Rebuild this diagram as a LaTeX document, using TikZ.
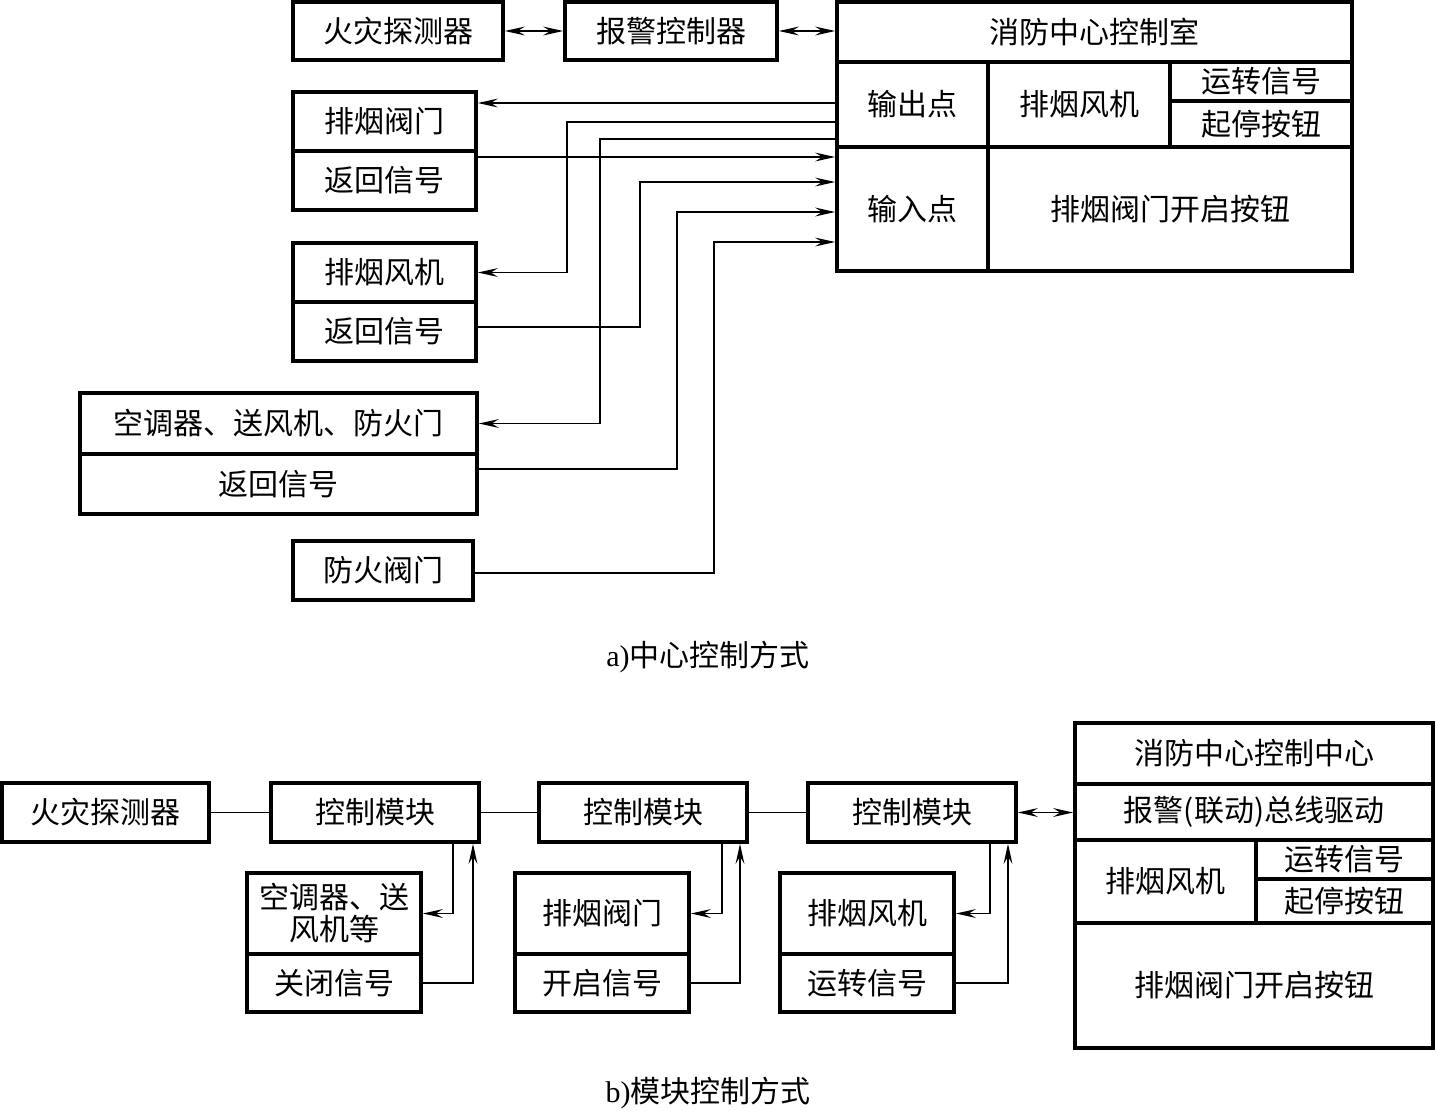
\documentclass[tikz,border=0pt]{standalone}
\usepackage{fontspec}
\newfontfamily\cjk{Noto Sans CJK SC}
\newfontfamily\latin{Liberation Serif}
\usetikzlibrary{arrows.meta}

% Caja rectangular dada por sus esquinas (en pixeles de la figura)
\newcommand{\caja}[6]{%
    \node[celda, minimum width={(#4-#2)*0.5pt}, minimum height={(#5-#3)*0.5pt}] (#1) at ({(#2+#4)/2},{(#3+#5)/2}) {#6};}

\tikzset{
    celda/.style={draw, line width=1.8pt, inner sep=0pt, align=center, font=\cjk\fontsize{15}{16}\selectfont},
    senal/.style={line width=0.8pt, -{Stealth[length=10pt, width=4.4pt, inset=3.5pt]}},
    enlace/.style={line width=0.8pt},
    doble/.style={line width=0.9pt, {Stealth[length=10pt, width=4.4pt, inset=3.5pt]}-{Stealth[length=10pt, width=4.4pt, inset=3.5pt]}},
    leyenda/.style={font=\cjk\fontsize{15}{16}\selectfont}
}

\begin{document}
\begin{tikzpicture}[x=0.5pt, y=-0.5pt]
    % Limites de la figura
    \useasboundingbox[fill=white] (0,0) rectangle (1436,1110);

    % Parte a): cajas de arriba
    \caja{det}{293}{2}{503}{60}{火灾探测器}
    \caja{alarma}{565}{2}{777}{60}{报警控制器}

    % Sala de control central
    \caja{sala}{837}{2}{1352}{62}{消防中心控制室}
    \caja{salida}{837}{62}{988}{147}{输出点}
    \caja{ventA}{988}{62}{1170}{147}{排烟风机}
    \caja{marchaA}{1170}{62}{1352}{101}{运转信号}
    \caja{paroA}{1170}{101}{1352}{147}{起停按钮}
    \caja{entrada}{837}{147}{988}{271}{输入点}
    \caja{botonA}{988}{147}{1352}{271}{排烟阀门开启按钮}

    % Equipos de la izquierda
    \caja{valv}{293}{92}{476}{151}{排烟阀门}
    \caja{valvRet}{293}{151}{476}{210}{返回信号}
    \caja{vent}{293}{243}{476}{302}{排烟风机}
    \caja{ventRet}{293}{302}{476}{361}{返回信号}
    \caja{clima}{80}{393}{477}{454}{空调器、送风机、防火门}
    \caja{climaRet}{80}{454}{477}{514}{返回信号}
    \caja{cortaf}{293}{541}{473}{600}{防火阀门}

    % Flechas dobles
    \draw[doble] (det.east) -- (alarma.west);
    \draw[doble] (alarma.east) -- (sala.west |- alarma.east);

    % Salidas hacia los equipos
    \draw[senal] (salida.west |- 0,103) -- (valv.east |- 0,103);
    \draw[senal] (salida.west |- 0,122) -- (567,122) |- (vent.east);
    \draw[senal] (salida.west |- 0,139) -- (600,139) |- (clima.east);

    % Senales de retorno hacia las entradas
    \draw[senal] (valvRet.east |- 0,157) -- (entrada.west |- 0,157);
    \draw[senal] (ventRet.east |- 0,327) -- (640,327) |- (entrada.west |- 0,182);
    \draw[senal] (climaRet.east |- 0,469) -- (677,469) |- (entrada.west |- 0,212);
    \draw[senal] (cortaf.east |- 0,573) -- (714,573) |- (entrada.west |- 0,242);

    \node[leyenda] (leyA) at (708,657) {{\latin a)}中心控制方式};

    % Parte b): cadena de modulos
    \caja{detB}{2}{783}{209}{842}{火灾探测器}
    \caja{modA}{271}{783}{479}{842}{控制模块}
    \caja{modB}{539}{783}{747}{842}{控制模块}
    \caja{modC}{808}{783}{1016}{842}{控制模块}

    % Centro de control
    \caja{centro}{1075}{723}{1433}{784}{消防中心控制中心}
    \caja{bus}{1075}{784}{1433}{840}{报警(联动)总线驱动}
    \caja{ventB}{1075}{840}{1256}{923}{排烟风机}
    \caja{marchaB}{1256}{840}{1433}{879}{运转信号}
    \caja{paroB}{1256}{879}{1433}{923}{起停按钮}
    \caja{botonB}{1075}{923}{1433}{1048}{排烟阀门开启按钮}

    % Equipos bajo cada modulo
    \caja{climaB}{247}{873}{421}{954}{空调器、送\\风机等}
    \caja{cierre}{247}{954}{421}{1012}{关闭信号}
    \caja{valvB}{515}{873}{689}{954}{排烟阀门}
    \caja{apertura}{515}{954}{689}{1012}{开启信号}
    \caja{ventC}{780}{873}{954}{954}{排烟风机}
    \caja{marchaC}{780}{954}{954}{1012}{运转信号}

    % Enlaces del bus
    \draw[enlace] (detB.east) -- (modA.west);
    \draw[enlace] (modA.east) -- (modB.west);
    \draw[enlace] (modB.east) -- (modC.west);
    \draw[doble] (modC.east) -- (bus.west |- modC.east);

    % Mando y retorno de cada modulo
    \draw[senal] (modA.south -| 453,0) |- (climaB.east);
    \draw[senal] (cierre.east) -| (modA.south -| 473,0);
    \draw[senal] (modB.south -| 722,0) |- (valvB.east);
    \draw[senal] (apertura.east) -| (modB.south -| 740,0);
    \draw[senal] (modC.south -| 990,0) |- (ventC.east);
    \draw[senal] (marchaC.east) -| (modC.south -| 1008,0);

    \node[leyenda] (leyB) at (708,1093) {{\latin b)}模块控制方式};

\end{tikzpicture}
\end{document}
